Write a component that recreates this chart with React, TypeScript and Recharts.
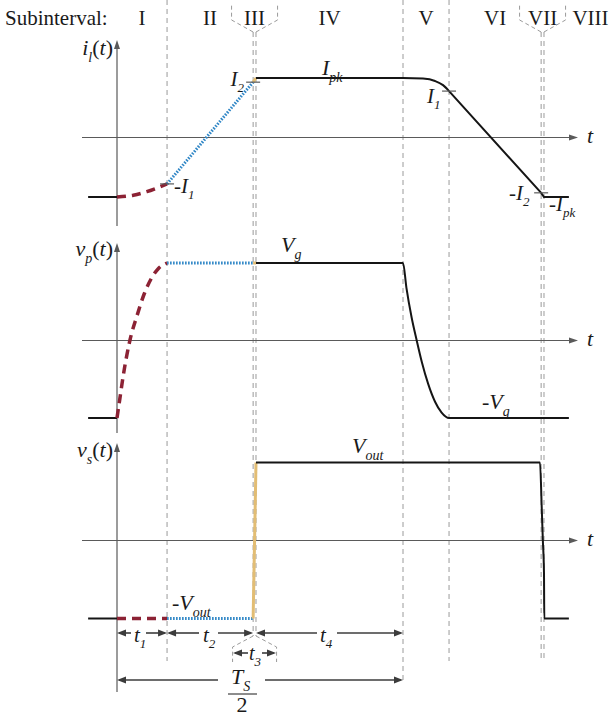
import React from 'react';
import { ComposedChart, Line, XAxis, YAxis, ReferenceLine, ReferenceDot } from 'recharts';

const W = 615;
const H = 716;
const ORIGIN_X = 117; // px where t = 0 (vertical axes)
const PX_PER_T = 286; // px for one Ts/2

// time is in units of Ts/2, t = 0 on the vertical axes
const BOUNDS = [0, 0.175, 0.476, 0.486, 1.0, 1.161, 1.483, 1.493];
const SUB_NAMES = ['I', 'II', 'III', 'IV', 'V', 'VI', 'VII', 'VIII'];
const T_FIRST = -0.101;
const T_LAST = 1.58;

// normalised levels
const I_PK = 1;
const I2 = 0.93;
const I1 = 0.78;
const VG = 1;
const VOUT = 1;

type Pt = { t: number; v: number };

// i_l(t)
const IL_PRE: Pt[] = [{ t: T_FIRST, v: -I_PK }, { t: 0, v: -I_PK }];
const IL_1: Pt[] = [
  { t: 0, v: -I_PK }, { t: 0.057, v: -0.97 }, { t: 0.104, v: -0.91 }, { t: 0.139, v: -0.85 }, { t: 0.175, v: -I1 },
];
const IL_2: Pt[] = [{ t: 0.175, v: -I1 }, { t: 0.476, v: I2 }];
const IL_3: Pt[] = [{ t: 0.476, v: I2 }, { t: 0.486, v: I_PK }];
const IL_4: Pt[] = [
  { t: 0.486, v: I_PK }, { t: 1.0, v: I_PK }, { t: 1.07, v: 0.99 }, { t: 1.112, v: 0.95 }, { t: 1.14, v: 0.88 },
  { t: 1.161, v: I1 },
];
const IL_REST: Pt[] = [{ t: 1.161, v: I1 }, { t: 1.483, v: -I2 }, { t: 1.493, v: -I_PK }, { t: T_LAST, v: -I_PK }];

// v_p(t)
const VP_PRE: Pt[] = [{ t: T_FIRST, v: -VG }, { t: 0, v: -VG }];
const VP_1: Pt[] = [
  { t: 0, v: -VG }, { t: 0.01, v: -0.75 }, { t: 0.022, v: -0.45 }, { t: 0.045, v: 0 }, { t: 0.07, v: 0.32 },
  { t: 0.095, v: 0.6 }, { t: 0.12, v: 0.8 }, { t: 0.145, v: 0.93 }, { t: 0.175, v: VG },
];
const VP_2: Pt[] = [{ t: 0.175, v: VG }, { t: 0.476, v: VG }];
const VP_3: Pt[] = [{ t: 0.476, v: VG }, { t: 0.486, v: VG }];
const VP_REST: Pt[] = [
  { t: 0.486, v: VG }, { t: 1.0, v: VG }, { t: 1.012, v: 0.68 }, { t: 1.03, v: 0.3 }, { t: 1.048, v: 0 },
  { t: 1.066, v: -0.28 }, { t: 1.088, v: -0.56 }, { t: 1.112, v: -0.79 }, { t: 1.135, v: -0.93 },
  { t: 1.161, v: -VG }, { t: T_LAST, v: -VG },
];

// v_s(t)
const VS_PRE: Pt[] = [{ t: T_FIRST, v: -VOUT }, { t: 0, v: -VOUT }];
const VS_1: Pt[] = [{ t: 0, v: -VOUT }, { t: 0.175, v: -VOUT }];
const VS_2: Pt[] = [{ t: 0.175, v: -VOUT }, { t: 0.476, v: -VOUT }];
const VS_3: Pt[] = [{ t: 0.476, v: -VOUT }, { t: 0.486, v: VOUT }];
const VS_REST: Pt[] = [
  { t: 0.486, v: VOUT }, { t: 1.479, v: VOUT }, { t: 1.485, v: 0.43 }, { t: 1.489, v: 0 },
  { t: 1.493, v: -0.42 }, { t: 1.494, v: -VOUT }, { t: T_LAST, v: -VOUT },
];

// panel placement: px of the zero line and px per unit level
const PANELS: Record<string, { zero: number; unit: number; top: number; bottom: number }> = {
  il: { zero: 137.5, unit: 59.5, top: 40, bottom: 226 },
  vp: { zero: 340.5, unit: 77.5, top: 243, bottom: 433 },
  vs: { zero: 540.5, unit: 78, top: 443, bottom: 692 },
};

const RED = '#8c2234';
const BLUE = '#2f86c6';
const TAN = '#e2bd74';
const BLACK = '#151515';
const AXIS = '#5a5a5a';
const GUIDE = '#9a9a9a';
const DIM = '#3c3c3c';
const INK = '#1a1a1a';
const SERIF = "'Times New Roman', Times, 'Liberation Serif', 'DejaVu Serif', 'Noto Serif', serif";

const tx = (px: number) => (px - ORIGIN_X) / PX_PER_T;

type Run = [string, 'r' | 'i' | 'sub'];

function MathText({ x, y, runs, size = 22, anchor = 'start' }: { x: number; y: number; runs: Run[]; size?: number; anchor?: string }) {
  let shift = 0;
  const drop = Math.round(size * 0.3);
  return (
    <text x={x} y={y} textAnchor={anchor as any} fill={INK} fontFamily={SERIF} fontSize={size}>
      {runs.map(([s, k], i) => {
        const target = k === 'sub' ? drop : 0;
        const dy = target - shift;
        shift = target;
        return (
          <tspan
            key={i}
            dy={dy || undefined}
            fontFamily={SERIF}
            fontStyle={k === 'r' ? 'normal' : 'italic'}
            fontSize={k === 'sub' ? Math.round(size * 0.64) : size}
          >
            {s}
          </tspan>
        );
      })}
    </text>
  );
}

function note(key: string, px: number, py: number, runs: Run[], anchor = 'start', size = 22) {
  return (
    <ReferenceDot
      key={key}
      x={tx(px)}
      y={py}
      yAxisId="page"
      r={1}
      shape={(p: any) => <MathText x={p.cx} y={p.cy} runs={runs} anchor={anchor} size={size} />}
    />
  );
}

const axisShape = (dir: 'right' | 'up') => (p: any) => {
  const L = 9;
  const HW = 3;
  if (dir === 'right') {
    const a = Math.min(p.x1, p.x2);
    const b = Math.max(p.x1, p.x2);
    const y = p.y1;
    return (
      <g>
        <line x1={a} y1={y} x2={b - L + 1} y2={y} stroke={AXIS} strokeWidth={1.2} />
        <polygon points={`${b},${y} ${b - L},${y - HW} ${b - L},${y + HW}`} fill={AXIS} />
      </g>
    );
  }
  const top = Math.min(p.y1, p.y2);
  const bot = Math.max(p.y1, p.y2);
  const x = p.x1;
  return (
    <g>
      <line x1={x} y1={top + L - 1} x2={x} y2={bot} stroke={AXIS} strokeWidth={1.2} />
      <polygon points={`${x},${top} ${x - HW},${top + L} ${x + HW},${top + L}`} fill={AXIS} />
    </g>
  );
};

const dimShape = (gap?: [number, number]) => (p: any) => {
  const a = Math.min(p.x1, p.x2);
  const b = Math.max(p.x1, p.x2);
  const y = p.y1;
  const L = 9;
  const HW = 3.5;
  const parts = gap ? [[a + 2, gap[0]], [gap[1], b - 2]] : [[a + 2, b - 2]];
  return (
    <g>
      {parts.map(([s, e], i) => (
        <line key={i} x1={s} y1={y} x2={e} y2={y} stroke={DIM} strokeWidth={1.6} />
      ))}
      <polygon points={`${a},${y} ${a + L},${y - HW} ${a + L},${y + HW}`} fill={DIM} />
      <polygon points={`${b},${y} ${b - L},${y - HW} ${b - L},${y + HW}`} fill={DIM} />
    </g>
  );
};

// chevron joining two close guide lines to a bracket around their label
const chevronShape = (halfW: number, cornerDy: number) => (p: any) => {
  const xa = Math.min(p.x1, p.x2);
  const xb = Math.max(p.x1, p.x2);
  const cx = (xa + xb) / 2;
  const yTip = p.y1;
  const yEnd = p.y2;
  const yCorner = yTip + cornerDy;
  return (
    <path
      d={`M${xa},${yTip} L${cx - halfW},${yCorner} L${cx - halfW},${yEnd} M${xb},${yTip} L${cx + halfW},${yCorner} L${cx + halfW},${yEnd}`}
      fill="none"
      stroke={GUIDE}
      strokeWidth={1}
      strokeDasharray="4 3"
    />
  );
};

const tickShape = (p: any) => <line x1={p.cx - 7} y1={p.cy} x2={p.cx + 7} y2={p.cy} stroke={AXIS} strokeWidth={1.2} />;

function seg(key: string, data: Pt[], axis: string, color: string, width: number, dash?: string, curve: 'linear' | 'monotone' = 'linear') {
  return (
    <Line
      key={key}
      data={data}
      dataKey="v"
      yAxisId={axis}
      type={curve}
      stroke={color}
      strokeWidth={width}
      strokeDasharray={dash}
      dot={false}
      activeDot={false}
      isAnimationActive={false}
    />
  );
}

export default function App() {
  const headerEdges = [...BOUNDS, tx(637)];
  const guides = [
    { t: BOUNDS[1], y1: 0, y2: 661 },
    { t: BOUNDS[2], y1: 32, y2: 636 },
    { t: BOUNDS[3], y1: 32, y2: 636 },
    { t: BOUNDS[4], y1: 0, y2: 682 },
    { t: BOUNDS[5], y1: 0, y2: 661 },
    { t: BOUNDS[6], y1: 32, y2: 661 },
    { t: BOUNDS[7], y1: 32, y2: 661 },
  ];

  return (
    <div style={{ position: 'absolute', left: 0, top: 0, width: W, height: H, background: '#fff' }}>
      <ComposedChart width={W} height={H} margin={{ top: 0, right: 0, bottom: 0, left: 0 }}>
        <XAxis type="number" dataKey="t" domain={[tx(0), tx(W)]} allowDataOverflow hide />
        <YAxis yAxisId="page" type="number" domain={[0, H]} reversed allowDataOverflow hide />
        {Object.entries(PANELS).map(([id, p]) => (
          <YAxis
            key={id}
            yAxisId={id}
            type="number"
            domain={[(p.zero - H) / p.unit, p.zero / p.unit]}
            allowDataOverflow
            hide
          />
        ))}

        {guides.map((g, i) => (
          <ReferenceLine
            key={`g${i}`}
            yAxisId="page"
            segment={[{ x: g.t, y: g.y1 }, { x: g.t, y: g.y2 }]}
            stroke={GUIDE}
            strokeWidth={1}
            strokeDasharray="5 4"
          />
        ))}
        <ReferenceLine
          yAxisId="page"
          segment={[{ x: BOUNDS[2], y: 32 }, { x: BOUNDS[3], y: 5 }]}
          shape={chevronShape(23, -12)}
        />
        <ReferenceLine
          yAxisId="page"
          segment={[{ x: BOUNDS[6], y: 32 }, { x: BOUNDS[7], y: 5 }]}
          shape={chevronShape(23, -12)}
        />
        <ReferenceLine
          yAxisId="page"
          segment={[{ x: BOUNDS[2], y: 636 }, { x: BOUNDS[3], y: 662 }]}
          shape={chevronShape(22, 11)}
        />

        {Object.entries(PANELS).map(([id, p]) => [
          <ReferenceLine
            key={`x${id}`}
            yAxisId={id}
            segment={[{ x: tx(82), y: 0 }, { x: tx(578), y: 0 }]}
            shape={axisShape('right')}
          />,
          <ReferenceLine
            key={`y${id}`}
            yAxisId="page"
            segment={[{ x: 0, y: p.top }, { x: 0, y: p.bottom }]}
            shape={axisShape('up')}
          />,
        ])}

        {seg('il0', IL_PRE, 'il', BLACK, 2)}
        {seg('il1', IL_1, 'il', RED, 3.5, '9 6', 'monotone')}
        {seg('il2', IL_2, 'il', BLUE, 3, '1.6 1.4')}
        {seg('il3', IL_3, 'il', TAN, 3)}
        {seg('il4', IL_4, 'il', BLACK, 2, undefined, 'monotone')}
        {seg('il5', IL_REST, 'il', BLACK, 2)}

        {seg('vp0', VP_PRE, 'vp', BLACK, 2)}
        {seg('vp1', VP_1, 'vp', RED, 3.5, '9 6', 'monotone')}
        {seg('vp2', VP_2, 'vp', BLUE, 3, '1.6 1.4')}
        {seg('vp3', VP_3, 'vp', TAN, 3)}
        {seg('vp4', VP_REST, 'vp', BLACK, 2, undefined, 'monotone')}

        {seg('vs0', VS_PRE, 'vs', BLACK, 2)}
        {seg('vs1', VS_1, 'vs', RED, 3.5, '9 6')}
        {seg('vs2', VS_2, 'vs', BLUE, 3, '1.6 1.4')}
        {seg('vs3', VS_3, 'vs', TAN, 3)}
        {seg('vs4', VS_REST, 'vs', BLACK, 2, undefined, 'monotone')}

        <ReferenceDot yAxisId="il" x={BOUNDS[2]} y={I2} r={1} shape={tickShape} />
        <ReferenceDot yAxisId="il" x={BOUNDS[5]} y={I1} r={1} shape={tickShape} />
        <ReferenceDot yAxisId="il" x={BOUNDS[1]} y={-I1} r={1} shape={tickShape} />
        <ReferenceDot yAxisId="il" x={BOUNDS[6]} y={-I2} r={1} shape={tickShape} />

        {/* dimension arrows */}
        <ReferenceLine yAxisId="page" segment={[{ x: BOUNDS[0], y: 633 }, { x: BOUNDS[1], y: 633 }]} shape={dimShape([131, 146])} />
        <ReferenceLine yAxisId="page" segment={[{ x: BOUNDS[1], y: 633 }, { x: BOUNDS[2], y: 633 }]} shape={dimShape([199, 218])} />
        <ReferenceLine yAxisId="page" segment={[{ x: BOUNDS[3], y: 633 }, { x: BOUNDS[4], y: 633 }]} shape={dimShape([317, 337])} />
        <ReferenceLine yAxisId="page" segment={[{ x: tx(233), y: 653 }, { x: tx(276), y: 653 }]} shape={dimShape([248, 262])} />
        <ReferenceLine yAxisId="page" segment={[{ x: BOUNDS[0], y: 680 }, { x: BOUNDS[4], y: 680 }]} shape={dimShape([218, 265])} />
        <ReferenceLine yAxisId="page" segment={[{ x: tx(228), y: 694 }, { x: tx(257), y: 694 }]} stroke={INK} strokeWidth={1} />

        {note('hdr', 5, 25, [['Subinterval:', 'r']], 'start', 21)}
        {SUB_NAMES.map((s, i) =>
          note(`sub${i}`, ORIGIN_X + ((headerEdges[i] + headerEdges[i + 1]) / 2) * PX_PER_T, 25, [[s, 'r']], 'middle', 21),
        )}

        {note('ilT', 113, 55, [['i', 'i'], ['l', 'sub'], ['(', 'r'], ['t', 'i'], [')', 'r']], 'end')}
        {note('vpT', 113, 256, [['v', 'i'], ['p', 'sub'], ['(', 'r'], ['t', 'i'], [')', 'r']], 'end')}
        {note('vsT', 113, 457, [['v', 'i'], ['s', 'sub'], ['(', 'r'], ['t', 'i'], [')', 'r']], 'end')}
        {note('t1ax', 587, 143, [['t', 'i']])}
        {note('t2ax', 587, 346, [['t', 'i']])}
        {note('t3ax', 587, 546, [['t', 'i']])}

        {note('ipk', 322, 75, [['I', 'i'], ['pk', 'sub']])}
        {note('i2', 244, 86, [['I', 'i'], ['2', 'sub']], 'end', 21)}
        {note('i1', 427, 103, [['I', 'i'], ['1', 'sub']], 'start', 21)}
        {note('mi1', 174, 193, [['-', 'r'], ['I', 'i'], ['1', 'sub']], 'start', 21)}
        {note('mi2', 509, 200, [['-', 'r'], ['I', 'i'], ['2', 'sub']], 'start', 21)}
        {note('mipk', 549, 211, [['-', 'r'], ['I', 'i'], ['pk', 'sub']], 'start', 21)}

        {note('vg', 281, 252, [['V', 'i'], ['g', 'sub']])}
        {note('mvg', 482, 409, [['-', 'r'], ['V', 'i'], ['g', 'sub']])}
        {note('vout', 352, 453, [['V', 'i'], ['out', 'sub']])}
        {note('mvout', 172, 610, [['-', 'r'], ['V', 'i'], ['out', 'sub']])}

        {note('d1', 134, 642, [['t', 'i'], ['1', 'sub']], 'start', 21)}
        {note('d2', 203, 642, [['t', 'i'], ['2', 'sub']], 'start', 21)}
        {note('d3', 249, 660, [['t', 'i'], ['3', 'sub']], 'start', 20)}
        {note('d4', 320, 642, [['t', 'i'], ['4', 'sub']], 'start', 21)}
        {note('ts', 231, 684, [['T', 'i'], ['S', 'sub']], 'start', 22)}
        {note('two', 242, 712, [['2', 'r']], 'middle', 22)}
      </ComposedChart>
    </div>
  );
}
